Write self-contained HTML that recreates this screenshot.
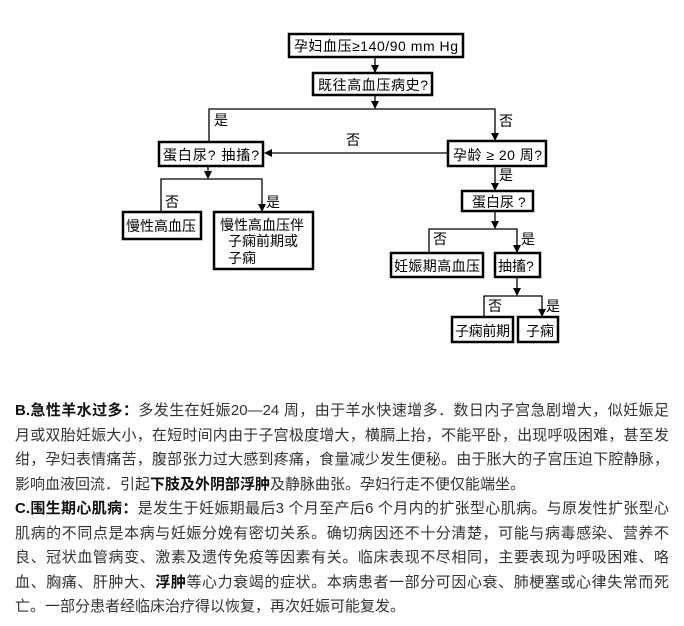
<!DOCTYPE html>
<html><head><meta charset="utf-8"><style>
body{margin:0;background:#fff;width:684px;height:626px;overflow:hidden;position:relative;font-family:"Liberation Sans","Noto Sans CJK SC",sans-serif}
svg{position:absolute;left:0;top:0}
.t{position:absolute;left:15px;top:399px;font-size:15px;line-height:24.5px;color:#333;white-space:nowrap}
.t div{width:654px;text-align:justify;text-align-last:justify}
.t div.l{text-align-last:left}
b{color:#111}
</style></head><body>
<svg width="684" height="390" font-family="Liberation Sans, Noto Sans CJK SC, sans-serif" font-size="14" fill="#000">
<defs><marker id="a" markerWidth="8" markerHeight="8" refX="7" refY="4" orient="auto" markerUnits="userSpaceOnUse"><path d="M0,0 L8,4 L0,8 z" fill="#000"/></marker></defs>
<g fill="none" stroke="#000" stroke-width="1.3">
<line x1="375" y1="57" x2="375" y2="72" marker-end="url(#a)"/>
<line x1="375" y1="95" x2="375" y2="108" marker-end="url(#a)"/>
<polyline points="209,141 209,109 495,109 495,140" marker-end="url(#a)"/>
<line x1="448" y1="153" x2="265" y2="153" marker-end="url(#a)"/>
<line x1="208" y1="166" x2="208" y2="178" marker-end="url(#a)"/>
<polyline points="161,211 161,179 262,179 262,211" marker-end="url(#a)"/>
<line x1="495" y1="166" x2="495" y2="190" marker-end="url(#a)"/>
<line x1="495" y1="211" x2="495" y2="228" marker-end="url(#a)"/>
<polyline points="429,252 429,229 517,229 517,252" marker-end="url(#a)"/>
<line x1="517" y1="277" x2="517" y2="295" marker-end="url(#a)"/>
<polyline points="484,316 484,296 542,296 542,316" marker-end="url(#a)"/>
</g>
<g fill="#fff" stroke="#000" stroke-width="2.5">
<rect x="289" y="34" width="174" height="23"/>
<rect x="313" y="73" width="119" height="22"/>
<rect x="159" y="142" width="104" height="24"/>
<rect x="448" y="141" width="98" height="25"/>
<rect x="123" y="212" width="78" height="27"/>
<rect x="214" y="212" width="99" height="57"/>
<rect x="462" y="191" width="71" height="20"/>
<rect x="391" y="253" width="92" height="24"/>
<rect x="495" y="253" width="45" height="24"/>
<rect x="452" y="317" width="61" height="25"/>
<rect x="518" y="317" width="40" height="25"/>
</g>
<text x="294" y="51" textLength="164">孕妇血压≥140/90 mm Hg</text>
<text x="318" y="90" textLength="110">既往高血压病史?</text>
<text x="163" y="160" textLength="96">蛋白尿? 抽搐?</text>
<text x="453" y="160" textLength="89">孕龄 ≥ 20 周?</text>
<text x="126" y="231">慢性高血压</text>
<text x="220" y="230">慢性高血压伴</text>
<text x="228" y="246">子痫前期或</text>
<text x="228" y="263">子痫</text>
<text x="472" y="207">蛋白尿 ?</text>
<text x="394" y="271" textLength="86">妊娠期高血压</text>
<text x="498" y="271">抽搐?</text>
<text x="455" y="336" textLength="55">子痫前期</text>
<text x="526" y="336">子痫</text>
<text x="214" y="125">是</text>
<text x="499" y="126">否</text>
<text x="346" y="145">否</text>
<text x="165" y="207">否</text>
<text x="266" y="207">是</text>
<text x="499" y="180">是</text>
<text x="433" y="244">否</text>
<text x="521" y="244">是</text>
<text x="488" y="311">否</text>
<text x="546" y="311">是</text>
</svg>
<div class="t">
<div><b>B.急性羊水过多：</b>多发生在妊娠20—24 周，由于羊水快速增多．数日内子宫急剧增大，似妊娠足</div>
<div>月或双胎妊娠大小，在短时间内由于子宫极度增大，横膈上抬，不能平卧，出现呼吸困难，甚至发</div>
<div>绀，孕妇表情痛苦，腹部张力过大感到疼痛，食量减少发生便秘。由于胀大的子宫压迫下腔静脉，</div>
<div class="l">影响血液回流．引起<b>下肢及外阴部浮肿</b>及静脉曲张。孕妇行走不便仅能端坐。</div>
<div><b>C.围生期心肌病：</b>是发生于妊娠期最后3 个月至产后6 个月内的扩张型心肌病。与原发性扩张型心</div>
<div>肌病的不同点是本病与妊娠分娩有密切关系。确切病因还不十分清楚，可能与病毒感染、营养不</div>
<div>良、冠状血管病变、激素及遗传免疫等因素有关。临床表现不尽相同，主要表现为呼吸困难、咯</div>
<div>血、胸痛、肝肿大、<b>浮肿</b>等心力衰竭的症状。本病患者一部分可因心衰、肺梗塞或心律失常而死</div>
<div class="l">亡。一部分患者经临床治疗得以恢复，再次妊娠可能复发。</div>
</div>
</body></html>
